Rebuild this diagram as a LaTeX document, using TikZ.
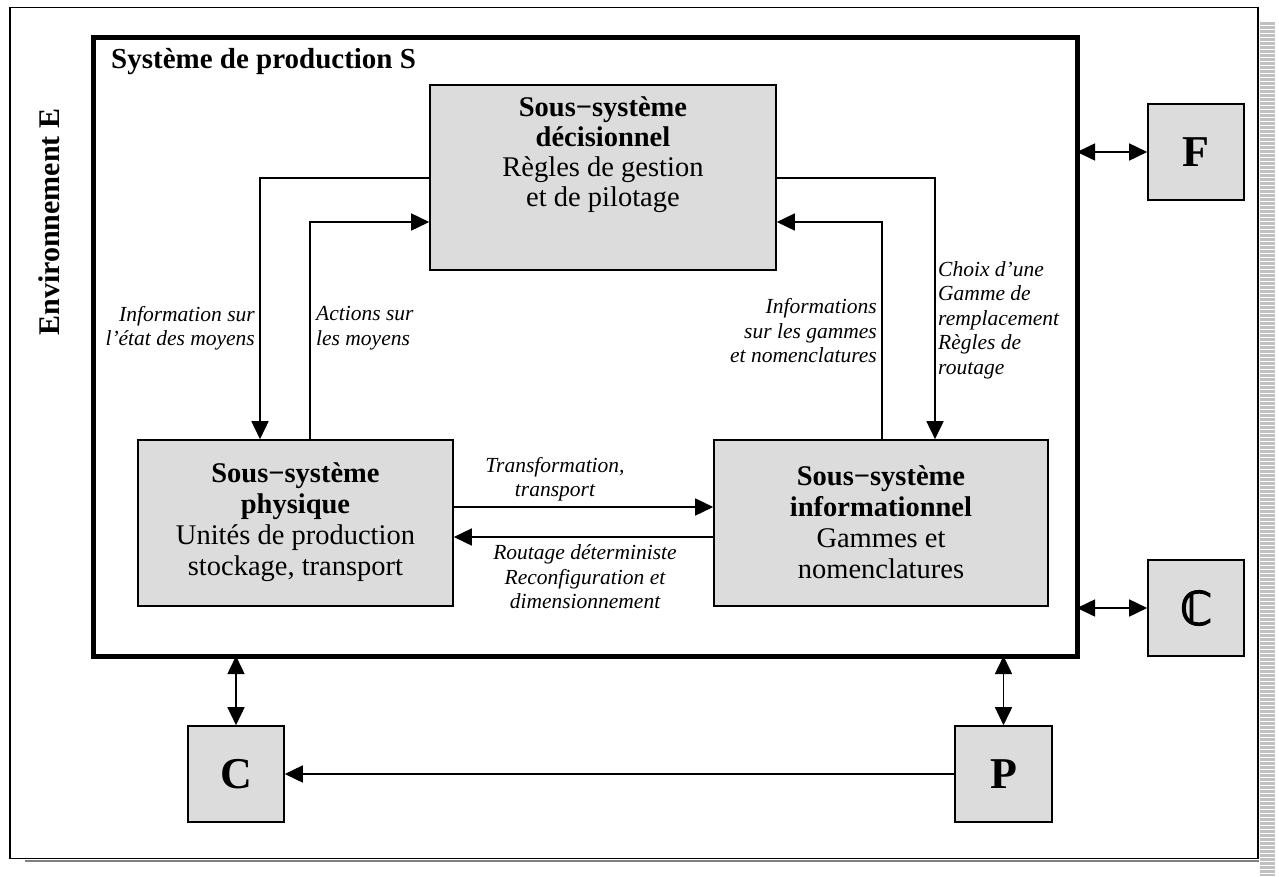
\documentclass[tikz,border=0pt]{standalone}
\usepackage{fontspec}
\setmainfont{Liberation Serif}
\newfontfamily\dsfont[FakeBold=3]{DejaVu Sans}
\usetikzlibrary{arrows.meta}
\definecolor{boxfill}{HTML}{DCDCDC}
\definecolor{stripe}{HTML}{C0C0C0}
\begin{document}
\begin{tikzpicture}[x=1pt,y=-1pt,
  blk/.style={draw=black,line width=1.6pt,fill=boxfill,inner sep=0pt},
  link/.style={line width=1.6pt,-{Triangle[length=18pt,width=17pt]}},
  both/.style={line width=1.6pt,{Triangle[length=18pt,width=17pt]}-{Triangle[length=18pt,width=17pt]}},
  boxtext/.style={align=center,inner sep=0pt,font=\fontsize{28.5}{30}\selectfont},
  lbl/.style={inner sep=0pt,font=\fontsize{21.5}{24.5}\selectfont\itshape},
  letter/.style={font=\fontsize{44}{48}\selectfont\bfseries}
]
\useasboundingbox (0,0) rectangle (1279,876);

% striped shadow along the right edge and the grey line under the frame
\fill[stripe] (1260,22) rectangle (1275,876);
\foreach \y in {25,29,...,876} \draw[white,line width=1pt] (1260,\y) -- (1275,\y);
\draw[gray,line width=2pt] (25,860.5) -- (1259,860.5);

% environment frame
\node[draw=black,line width=1.5pt,minimum width=1248pt,minimum height=851pt,inner sep=0pt] (env) at (634,433) {};
\node[rotate=90,inner sep=0pt,font=\fontsize{30}{34}\selectfont\bfseries] (envtitle) at (49,222) {Environnement E};

% production system frame
\node[draw=black,line width=5pt,minimum width=984pt,minimum height=619pt,inner sep=0pt,outer sep=0pt] (sys) at (585,346.5) {};
\node[anchor=base west,inner sep=0pt,font=\fontsize{29}{34}\selectfont\bfseries] (systitle) at (111,68) {Système de production S};

% the three subsystems
\node[blk,minimum width=346pt,minimum height=185pt] (dec) at (603,177.5) {};
\node[boxtext] (dect) at (603,155) {\textbf{Sous−système}\\\textbf{décisionnel}\\Règles de gestion\\et de pilotage};

\node[blk,minimum width=315pt,minimum height=166pt] (phys) at (295.5,523) {};
\node[boxtext,font=\fontsize{28.5}{31}\selectfont] (physt) at (295.5,522) {\textbf{Sous−système}\\\textbf{physique}\\Unités de production\\stockage, transport};

\node[blk,minimum width=334pt,minimum height=166pt] (info) at (881,523) {};
\node[boxtext,font=\fontsize{28.5}{31}\selectfont] (infot) at (881,522) {\textbf{Sous−système}\\\textbf{informationnel}\\Gammes et\\nomenclatures};

% external actors
\node[blk,letter,minimum width=96pt,minimum height=96pt] (F) at (1196,152) {F};
\node[blk,minimum width=96pt,minimum height=96pt,font=\fontsize{46}{50}\selectfont\dsfont] (K) at (1196,608) {ℂ};
\node[blk,letter,minimum width=96pt,minimum height=96pt] (C) at (236,774) {C};
\node[blk,letter,minimum width=97pt,minimum height=96pt] (P) at (1003.5,774) {P};

% routing points of the connectors
\coordinate (L1) at (260,178);
\coordinate (L2) at (310,222);
\coordinate (R1) at (935,178);
\coordinate (R2) at (882,222);
\coordinate (H1) at (0,507);
\coordinate (H2) at (0,537);

\draw[link] (dec.west |- L1) -| (phys.north -| L1);
\draw[link] (phys.north -| L2) |- (dec.west |- L2);
\draw[link] (info.north -| R2) |- (dec.east |- R2);
\draw[link] (dec.east |- R1) -| (info.north -| R1);
\draw[link] (phys.east |- H1) -- (info.west |- H1);
\draw[link] (info.west |- H2) -- (phys.east |- H2);

\draw[both] (sys.east |- F) -- (F.west);
\draw[both] (sys.east |- K) -- (K.west);
\draw[both] (sys.south -| C) -- (C.north);
\draw[both] (sys.south -| P) -- (P.north);
\draw[link] (P.west) -- (C.east);

% connector labels
\node[lbl,align=right,anchor=east] (l1) at (255,328) {Information sur\\l’état des moyens};
\node[lbl,align=left,anchor=west] (l2) at (316,328) {Actions sur\\les moyens};
\node[lbl,align=right,anchor=east] (l3) at (877,331) {Informations\\sur les gammes\\et nomenclatures};
\node[lbl,align=left,anchor=west] (l4) at (938,320) {Choix d’une\\Gamme de\\remplacement\\Règles de\\routage};
\node[lbl,align=center] (l5) at (555,479) {Transformation,\\transport};
\node[lbl,align=center] (l6) at (585,577) {Routage déterministe\\Reconfiguration et\\dimensionnement};
\end{tikzpicture}
\end{document}
